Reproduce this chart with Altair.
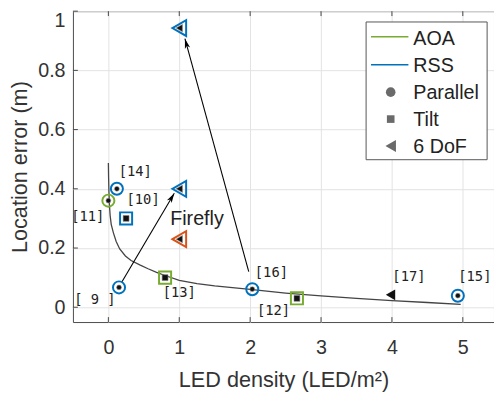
import altair as alt
import pandas as pd
import numpy as np

# ---------------- data ----------------
# fitted trend curve
curve_x = [0.0, 0.003, 0.008, 0.015, 0.025, 0.04, 0.07, 0.11, 0.16, 0.24, 0.32,
           0.45, 0.56, 0.68, 0.79, 1.0, 1.25, 1.5, 1.75, 2.0, 2.5, 3.0, 3.5,
           4.0, 4.5, 4.97]
curve_y = [0.487, 0.44, 0.39, 0.345, 0.31, 0.28, 0.252, 0.222, 0.197, 0.173,
           0.158, 0.142, 0.130, 0.118, 0.108, 0.091, 0.080, 0.072, 0.066,
           0.060, 0.048, 0.038, 0.030, 0.022, 0.016, 0.010]

# systems
method = ["AOA", "AOA", "AOA", "RSS", "RSS", "RSS", "RSS", "RSS", "RSS", "RSS",
          "Firefly"]
setup = ["Parallel", "Tilt", "Tilt", "Parallel", "Parallel", "Parallel",
         "Parallel", "Tilt", "6 DoF", "6 DoF", "6 DoF"]
density = [0.0, 0.80, 2.66, 0.12, 0.15, 2.03, 4.93, 0.25, 1.0, 1.0, 1.0]
error = [0.36, 0.10, 0.03, 0.40, 0.067, 0.061, 0.039, 0.30, 0.40, 0.943, 0.23]

# unmarked system [17]
other_density = [3.98]
other_error = [0.042]

# reference labels
ref_text = ["[11]", "[13]", "[12]", "[14]", "[ 9 ]", "[16]", "[15]", "[10]", "[17]"]
ref_x = [-0.29, 1.0, 2.33, 0.38, -0.19, 2.30, 5.17, 0.49, 4.24]
ref_y = [0.303, 0.047, -0.013, 0.457, 0.023, 0.117, 0.103, 0.363, 0.103]

note_text = ["Firefly"]
note_x = [1.25]
note_y = [0.297]

# arrows
arrow_x0 = [0.19, 1.98]
arrow_y0 = [0.085, 0.12]
arrow_x1 = [0.93, 1.08]
arrow_y1 = [0.385, 0.907]

x_ticks = [0, 1, 2, 3, 4, 5]
y_ticks = [0, 0.2, 0.4, 0.6, 0.8, 1.0]

legend_labels = ["AOA", "RSS", "Parallel", "Tilt", "6 DoF"]

# ---------------- styling ----------------
W, H = 428, 316
XMIN, XMAX = -0.5, 5.44
YMIN, YMAX = -0.05, 1.0
FONT = "Liberation Sans"
TXT = "#333333"
BLUE, GREEN, ORANGE = "#0072BD", "#77AC30", "#D95319"

xs = alt.Scale(domain=[XMIN, XMAX], nice=False, zero=False)
ys = alt.Scale(domain=[YMIN, YMAX], nice=False, zero=False)

x_axis = alt.Axis(values=x_ticks, grid=True, gridColor="#e2e2e2", domain=False,
                  ticks=False, labelFontSize=20, labelPadding=16, labelColor=TXT,
                  labelFont=FONT, title="LED density (LED/m²)", titleFontSize=22,
                  titleFont=FONT, titleColor=TXT, titleFontWeight="normal",
                  titlePadding=13)
y_axis = alt.Axis(values=y_ticks, grid=True, gridColor="#e2e2e2", domain=False,
                  ticks=False, format="~g", labelFontSize=20, labelPadding=8,
                  labelColor=TXT, labelFont=FONT, labelFlush=True,
                  title="Location error (m)", titleFontSize=22, titleFont=FONT,
                  titleColor=TXT, titleFontWeight="normal", titlePadding=6)


def ex(f):
    return alt.X(f, type="quantitative", scale=xs, axis=x_axis)


def ey(f):
    return alt.Y(f, type="quantitative", scale=ys, axis=y_axis)


color_scale = alt.Scale(domain=["AOA", "RSS", "Firefly"], range=[GREEN, BLUE, ORANGE])

curve_df = pd.DataFrame({"x": curve_x, "y": curve_y})
pts_df = pd.DataFrame({"method": method, "setup": setup, "x": density, "y": error})
other_df = pd.DataFrame({"x": other_density, "y": other_error})
ref_df = pd.DataFrame({"t": ref_text, "x": ref_x, "y": ref_y})
note_df = pd.DataFrame({"t": note_text, "x": note_x, "y": note_y})

ppx = W / (XMAX - XMIN)
ppy = H / (YMAX - YMIN)
arr_df = pd.DataFrame({"x0": arrow_x0, "y0": arrow_y0, "x1": arrow_x1, "y1": arrow_y1})
arr_df["ang"] = np.mod(np.degrees(np.arctan2((arr_df.x1 - arr_df.x0) * ppx,
                                             (arr_df.y1 - arr_df.y0) * ppy)), 360)
xt_df = pd.DataFrame({"v": x_ticks})
yt_df = pd.DataFrame({"v": y_ticks})
one = pd.DataFrame({"k": [0]})

curve = alt.Chart(curve_df).mark_line(color="#444444", strokeWidth=1.3).encode(
    x=ex("x"), y=ey("y"))

marker_layers = []
for s, shp, outer_size, inner_size in [("Parallel", "circle", 150, 24),
                                       ("Tilt", "square", 150, 36),
                                       ("6 DoF", "triangle-left", 260, 55)]:
    base = alt.Chart(pts_df).transform_filter(alt.datum.setup == s)
    marker_layers.append(base.mark_point(shape=shp, size=outer_size, filled=False,
                                         strokeWidth=2, opacity=1).encode(
        x=ex("x"), y=ey("y"),
        color=alt.Color("method:N", scale=color_scale, legend=None)))
    marker_layers.append(base.mark_point(shape=shp, size=inner_size, filled=True,
                                         fill="#111111", stroke="#8a8a8a",
                                         strokeWidth=0.6, opacity=1).encode(
        x=ex("x"), y=ey("y")))

other = alt.Chart(other_df).mark_point(filled=True, color="#111111", opacity=1,
                                       shape="triangle-left", size=120).encode(
    x=ex("x"), y=ey("y"))

arrow_lines = alt.Chart(arr_df).mark_rule(color="black", strokeWidth=1.1).encode(
    x=ex("x0"), y=ey("y0"), x2="x1", y2="y1")

arrow_heads = alt.Chart(arr_df).mark_point(
    shape="M0,0 L0.55,2 L0,1.5 L-0.55,2 Z", filled=True, color="black",
    opacity=1, size=100).encode(x=ex("x1"), y=ey("y1"),
                                angle=alt.Angle("ang:Q", scale=None))

refs = alt.Chart(ref_df).mark_text(font="DejaVu Sans Mono", fontSize=14,
                                   color="#222222").encode(
    x=ex("x"), y=ey("y"), text="t:N")

note = alt.Chart(note_df).mark_text(font=FONT, fontSize=20, color="#222222").encode(
    x=ex("x"), y=ey("y"), text="t:N")

# inward ticks (box style)
tick_col = "#444444"
xt_bot = alt.Chart(xt_df).mark_rule(color=tick_col).encode(
    x=ex("v"), y=alt.value(H), y2=alt.value(H - 5))
xt_top = alt.Chart(xt_df).mark_rule(color=tick_col).encode(
    x=ex("v"), y=alt.value(0), y2=alt.value(5))
yt_left = alt.Chart(yt_df).mark_rule(color=tick_col).encode(
    y=ey("v"), x=alt.value(0), x2=alt.value(5))

# legend
lx0, lx1, ly0, ly1 = 298, 421, 11, 151
leg = [alt.Chart(one).mark_rect(fill="white", stroke="#555555", strokeWidth=1).encode(
    x=alt.value(lx0), x2=alt.value(lx1), y=alt.value(ly0), y2=alt.value(ly1))]
row_y = [27.5 + 27.4 * i for i in range(len(legend_labels))]
leg.append(alt.Chart(one).mark_rule(color=GREEN, strokeWidth=1.5).encode(
    x=alt.value(303), x2=alt.value(341), y=alt.value(row_y[0] - 1.5)))
leg.append(alt.Chart(one).mark_rule(color=BLUE, strokeWidth=1.5).encode(
    x=alt.value(303), x2=alt.value(341), y=alt.value(row_y[1] - 0.5)))
for shp, sz, i in [("circle", 95, 2), ("square", 60, 3), ("triangle-left", 150, 4)]:
    leg.append(alt.Chart(one).mark_point(shape=shp, size=sz, filled=True,
                                         color="#6a6a6a", opacity=1).encode(
        x=alt.value(323), y=alt.value(row_y[i])))
for i, lab in enumerate(legend_labels):
    leg.append(alt.Chart(one).mark_text(text=lab, align="left", baseline="middle",
                                        font=FONT, fontSize=20, color="#222222").encode(
        x=alt.value(346), y=alt.value(row_y[i] + 1)))

chart = alt.layer(
    curve, arrow_lines, arrow_heads, *marker_layers, other, refs, note,
    xt_bot, xt_top, yt_left, *leg
).properties(
    width=W, height=H,
    padding={"left": 66, "top": 0, "right": 0, "bottom": 74},
    autosize=alt.AutoSizeParams(type="none"),
).configure_view(stroke="#4a4a4a", strokeWidth=1)

chart.save("out.html", embed_options={"renderer": "svg", "actions": False})
